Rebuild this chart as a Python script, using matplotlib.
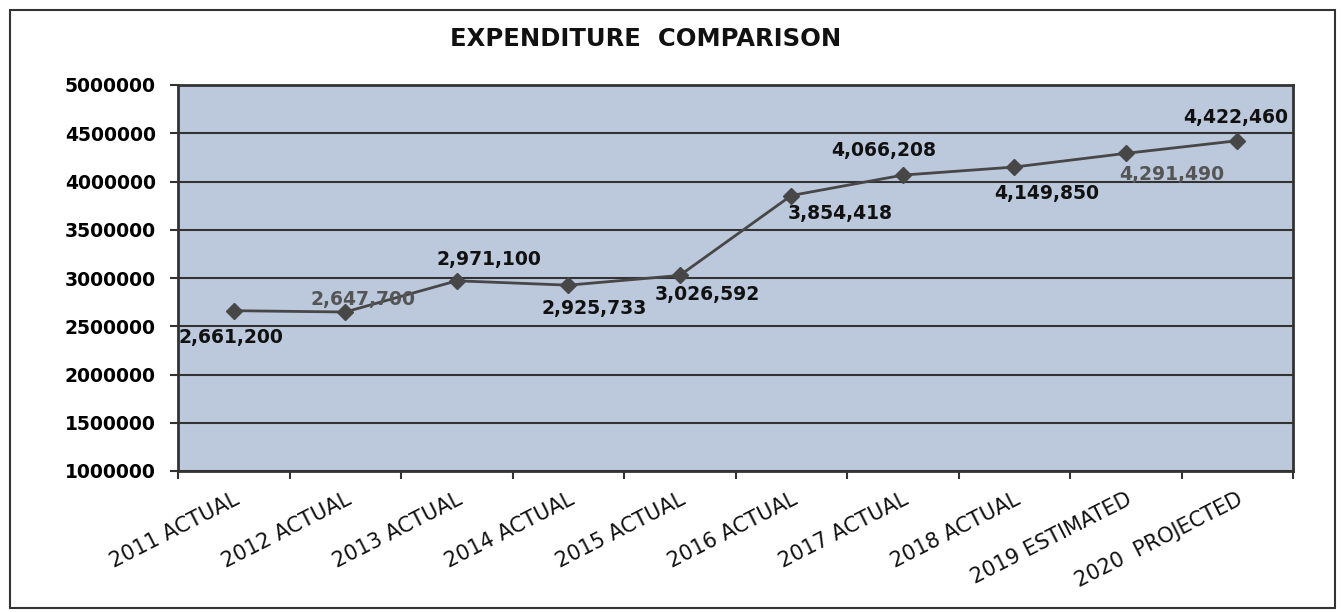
import matplotlib
matplotlib.use("Agg")
import matplotlib.pyplot as plt
from matplotlib.patches import Rectangle
from matplotlib.ticker import FixedLocator, NullFormatter

# Expenditure by fiscal year
categories = ["2011 ACTUAL", "2012 ACTUAL", "2013 ACTUAL", "2014 ACTUAL", "2015 ACTUAL",
              "2016 ACTUAL", "2017 ACTUAL", "2018 ACTUAL", "2019 ESTIMATED", "2020  PROJECTED"]
expenditure = [2661200, 2647700, 2971100, 2925733, 3026592,
               3854418, 4066208, 4149850, 4291490, 4422460]
y_ticks = [1000000, 1500000, 2000000, 2500000, 3000000, 3500000, 4000000, 4500000, 5000000]

# label placement (offset in points from each marker)
label_offsets = [(-2, -19), (13, 9), (23, 15), (19, -17), (20, -14),
                 (35, -13), (-14, 18), (23, -19), (33, -15), (-1, 17)]
label_colors = ["#111111", "#555555", "#111111", "#111111", "#111111",
                "#111111", "#111111", "#111111", "#555555", "#111111"]

W, H = 1343, 612
fig = plt.figure(figsize=(W / 100, H / 100), dpi=100)
fig.patch.set_facecolor("white")

# outer chart border
fig.patches.append(Rectangle((10 / W, 1 - 608 / H), 1325 / W, 598 / H,
                             transform=fig.transFigure, fill=False,
                             edgecolor="#333333", linewidth=1.5))

ax = fig.add_axes([178 / W, 1 - 471 / H, (1293 - 178) / W, (471 - 85) / H])
ax.set_facecolor("#bcc9dd")

x = list(range(len(categories)))
ax.plot(x, expenditure, color="#474747", linewidth=2.0, marker="D",
        markersize=8, markerfacecolor="#474747", markeredgecolor="#474747", zorder=3)

for xi, val, off, col in zip(x, expenditure, label_offsets, label_colors):
    ax.annotate(f"{val:,}", (xi, val), xytext=off, textcoords="offset points",
                ha="center", va="center", fontsize=13.5, fontweight="bold",
                family="DejaVu Sans", color=col, zorder=4)

ax.set_xlim(-0.5, len(categories) - 0.5)
ax.set_ylim(y_ticks[0], y_ticks[-1])
ax.set_yticks(y_ticks)
ax.set_yticklabels([str(v) for v in y_ticks], fontsize=13.5, fontweight="bold",
                   family="DejaVu Sans")
ax.yaxis.grid(True, color="#333333", linewidth=1.5)
ax.set_axisbelow(True)

# category labels at centers, tick marks at category boundaries
ax.set_xticks(x)
ax.set_xticklabels(categories, rotation=27, ha="right", rotation_mode="anchor",
                   fontsize=15, family="DejaVu Sans", color="#111111")
ax.xaxis.set_minor_locator(FixedLocator([i - 0.5 for i in range(len(categories) + 1)]))
ax.xaxis.set_minor_formatter(NullFormatter())
ax.tick_params(axis="x", which="major", length=0, pad=13)
ax.tick_params(axis="x", which="minor", length=6, width=1.5, color="#333333", direction="out")
ax.tick_params(axis="y", length=6, width=1.5, color="#333333", direction="out", pad=10)

for s in ax.spines.values():
    s.set_color("#333333")
    s.set_linewidth(2)

fig.text(450 / W, 1 - 39 / H, "EXPENDITURE  COMPARISON", ha="left", va="center",
         fontsize=17.5, fontweight="bold", family="DejaVu Sans", color="#111111")

fig.savefig("out.png", dpi=100)
